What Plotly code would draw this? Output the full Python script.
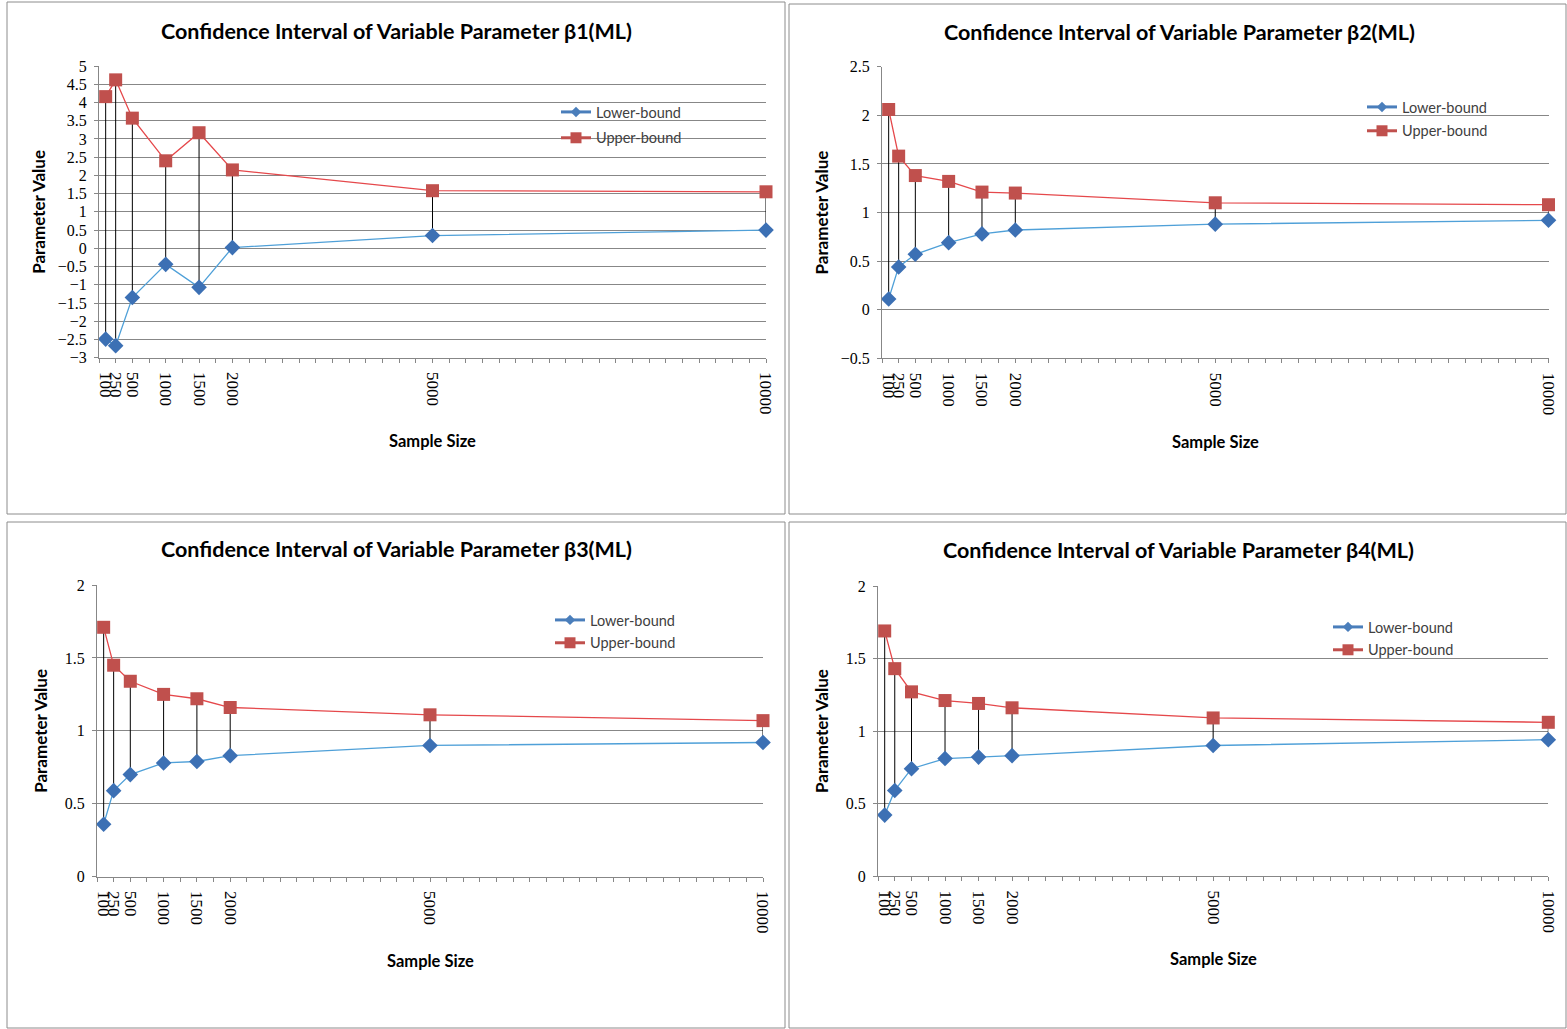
import plotly.graph_objects as go

# Sample sizes used in the simulation study
sizes = [100, 250, 500, 1000, 1500, 2000, 5000, 10000]
size_labels = ["100", "250", "500", "1000", "1500", "2000", "5000", "10000"]

# Confidence-interval bounds of each parameter (ML estimation)
b1_lower = [-2.49, -2.67, -1.35, -0.44, -1.07, 0.02, 0.35, 0.50]
b1_upper = [4.16, 4.62, 3.57, 2.40, 3.17, 2.15, 1.58, 1.55]
b2_lower = [0.11, 0.44, 0.57, 0.69, 0.78, 0.82, 0.88, 0.92]
b2_upper = [2.06, 1.58, 1.38, 1.32, 1.21, 1.20, 1.10, 1.08]
b3_lower = [0.36, 0.59, 0.70, 0.78, 0.79, 0.83, 0.90, 0.92]
b3_upper = [1.71, 1.45, 1.34, 1.25, 1.22, 1.16, 1.11, 1.07]
b4_lower = [0.42, 0.59, 0.74, 0.81, 0.82, 0.83, 0.90, 0.94]
b4_upper = [1.69, 1.43, 1.27, 1.21, 1.19, 1.16, 1.09, 1.06]

W, H = 1567, 1029


def fx(p):
    return p / W


def fy(p):
    return 1 - p / H


GRID = "#878787"
BLUE_LINE = "#4FA0D8"
BLUE_MARK = "#3C70B4"
RED_LINE = "#E5484B"
RED_MARK = "#C0504D"
TITLE_FONT = "Lato"
TICK_FONT = "Liberation Serif"

panels = [
    dict(name="β1", lower=b1_lower, upper=b1_upper, yrange=[-3, 5],
         xdom=(99, 766), ydom=(66, 357.7), frame=(7, 2, 785, 514),
         title_xy=(396, 31), ytitle_x=39, xtitle_y=441, legend_xy=(556, 96), lgap=4),
    dict(name="β2", lower=b2_lower, upper=b2_upper, yrange=[-0.5, 2.5],
         xdom=(882, 1548.5), ydom=(66.7, 358.3), frame=(789, 4, 1566, 514),
         title_xy=(1179, 32), ytitle_x=821, xtitle_y=442, legend_xy=(1362, 91), lgap=2),
    dict(name="β3", lower=b3_lower, upper=b3_upper, yrange=[0, 2],
         xdom=(97, 763), ydom=(585, 876.7), frame=(7, 522, 785, 1028),
         title_xy=(396, 549), ytitle_x=41, xtitle_y=961, legend_xy=(550, 604), lgap=1),
    dict(name="β4", lower=b4_lower, upper=b4_upper, yrange=[0, 2],
         xdom=(878, 1548.3), ydom=(586, 876), frame=(789, 522, 1566, 1028),
         title_xy=(1178, 550), ytitle_x=821, xtitle_y=959, legend_xy=(1328, 611), lgap=1),
]

fig = go.Figure()
layout = {}
shapes = []
annotations = []

for i, p in enumerate(panels):
    n = i + 1
    suf = "" if n == 1 else str(n)
    xa, ya = "x" + suf, "y" + suf
    leg = "legend" + suf

    # vertical high-low lines joining the two bounds
    hx, hy = [], []
    for s, lo, hi in zip(sizes, p["lower"], p["upper"]):
        hx += [s, s, None]
        hy += [lo, hi, None]
    fig.add_trace(go.Scatter(x=hx, y=hy, mode="lines", xaxis=xa, yaxis=ya,
                             line=dict(color="black", width=1), showlegend=False,
                             hoverinfo="skip", cliponaxis=False))

    fig.add_trace(go.Scatter(x=sizes, y=p["lower"], mode="lines+markers", xaxis=xa, yaxis=ya,
                             line=dict(color=BLUE_LINE, width=1.3),
                             marker=dict(symbol="diamond", size=12, color=BLUE_MARK),
                             showlegend=False, cliponaxis=False))
    fig.add_trace(go.Scatter(x=sizes, y=p["upper"], mode="lines+markers", xaxis=xa, yaxis=ya,
                             line=dict(color=RED_LINE, width=1.3),
                             marker=dict(symbol="square", size=13, color=RED_MARK),
                             showlegend=False, cliponaxis=False))

    # legend entries
    fig.add_trace(go.Scatter(x=[None], y=[None], mode="lines+markers", xaxis=xa, yaxis=ya,
                             name="Lower-bound", legend=leg, legendgroup="lo%d" % n,
                             line=dict(color="#4A7EBB", width=3),
                             marker=dict(symbol="diamond", size=8, color="#4A7EBB")))
    fig.add_trace(go.Scatter(x=[None], y=[None], mode="lines+markers", xaxis=xa, yaxis=ya,
                             name="Upper-bound", legend=leg, legendgroup="hi%d" % n,
                             line=dict(color=RED_MARK, width=3),
                             marker=dict(symbol="square", size=11, color=RED_MARK)))

    layout["xaxis" + suf] = dict(
        domain=[fx(p["xdom"][0]), fx(p["xdom"][1])], anchor=ya,
        range=[0, 10000], tickmode="array", tickvals=sizes, ticktext=size_labels,
        tickangle=90, ticks="", ticklabelstandoff=10, automargin=False,
        tickfont=dict(family=TICK_FONT, size=17, color="black"),
        showgrid=False, zeroline=False, showline=True, linecolor=GRID, linewidth=1,
        minor=dict(ticks="outside", tickmode="linear", tick0=0, dtick=250,
                   ticklen=4, tickcolor=GRID, showgrid=False),
        fixedrange=True,
    )
    layout["yaxis" + suf] = dict(
        domain=[fy(p["ydom"][1]), fy(p["ydom"][0])], anchor=xa,
        range=p["yrange"], dtick=0.5, tick0=0, automargin=False,
        ticks="outside", ticklen=4, tickcolor=GRID, ticklabelstandoff=4,
        tickfont=dict(family=TICK_FONT, size=16, color="black"),
        showgrid=True, gridcolor=GRID, gridwidth=1, zeroline=False,
        showline=True, linecolor=GRID, linewidth=1, fixedrange=True,
    )
    layout[leg] = dict(
        x=fx(p["legend_xy"][0]), y=fy(p["legend_xy"][1]), xanchor="left", yanchor="top",
        bgcolor="rgba(0,0,0,0)", borderwidth=0, tracegroupgap=p["lgap"],
        font=dict(family=TITLE_FONT, size=14.5, color="#404040"),
        itemwidth=30,
    )

    x0, y0, x1, y1 = p["frame"]
    shapes.append(dict(type="rect", xref="paper", yref="paper",
                       x0=fx(x0), x1=fx(x1), y0=fy(y1), y1=fy(y0),
                       line=dict(color="#8C8C8C", width=1), fillcolor="rgba(0,0,0,0)"))

    annotations.append(dict(
        text="Confidence Interval of Variable Parameter %s(ML)" % p["name"],
        xref="paper", yref="paper", x=fx(p["title_xy"][0]), y=fy(p["title_xy"][1]),
        xanchor="center", yanchor="middle", showarrow=False,
        font=dict(family=TITLE_FONT, size=21.5, color="black", weight="bold")))
    annotations.append(dict(
        text="Parameter Value", xref="paper", yref="paper",
        x=fx(p["ytitle_x"]), y=fy((p["ydom"][0] + p["ydom"][1]) / 2),
        xanchor="center", yanchor="middle", textangle=-90, showarrow=False,
        font=dict(family=TITLE_FONT, size=17, color="black", weight="bold")))
    annotations.append(dict(
        text="Sample Size", xref="paper", yref="paper",
        x=fx((p["xdom"][0] + p["xdom"][1]) / 2), y=fy(p["xtitle_y"]),
        xanchor="center", yanchor="middle", showarrow=False,
        font=dict(family=TITLE_FONT, size=16.5, color="black", weight="bold")))

fig.update_layout(
    width=W, height=H, autosize=False,
    margin=dict(l=0, r=0, t=0, b=0, autoexpand=False),
    paper_bgcolor="white", plot_bgcolor="white",
    shapes=shapes, annotations=annotations, hovermode=False,
    **layout,
)

fig.write_html("out.html")
